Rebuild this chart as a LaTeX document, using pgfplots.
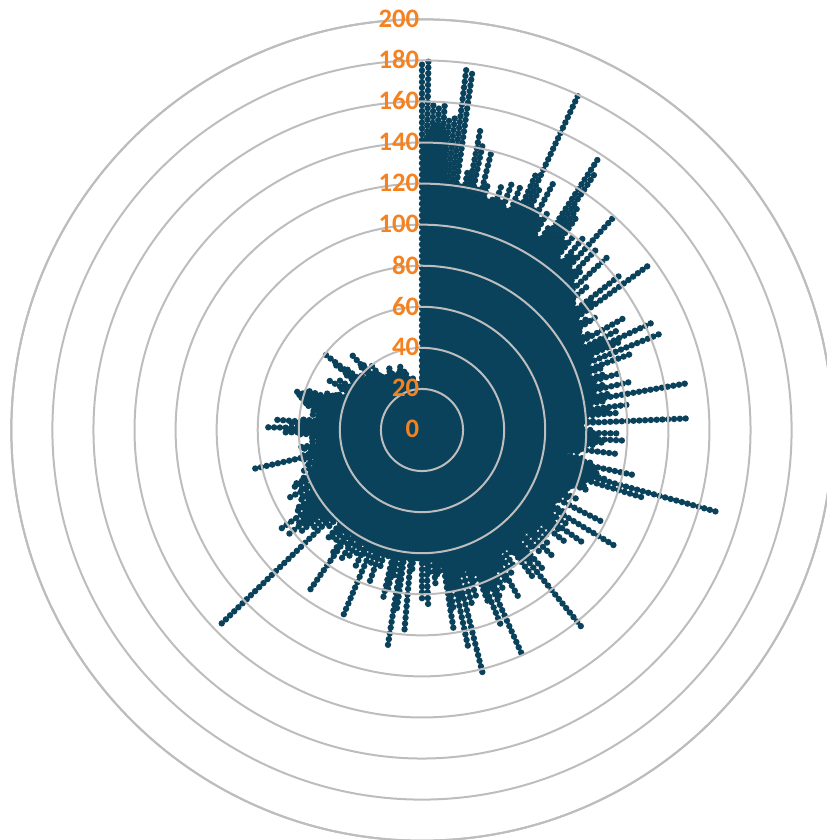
\documentclass[border=0pt]{standalone}
\usepackage{fontspec}
\setmainfont{Carlito}
\usepackage{pgfplots}
\pgfplotsset{compat=1.18}
\usepgfplotslibrary{polar}
\definecolor{spokecol}{HTML}{0A425C}
\definecolor{labelcol}{HTML}{F58220}
\definecolor{gridcol}{HTML}{BDBDBD}
% angle clockwise from top / value
\def\spokes{0/178,1/180,2/160,3/159,4/160,5/152,6/155,7/178,8/177,9/122,10/129,11/149,12/143,13/122,14/139,15/124,16/116,17/120,18/126,19/118,20/128,21/117,22/129,23/122,24/137,25/182,26/130,27/121,28/137,29/118,30/124,31/110,32/118,33/157,34/150,35/132,36/128,37/116,38/120,39/108,40/122,41/112,42/141,43/106,44/124,45/110,46/104,47/123,48/100,49/106,50/98,51/96,52/123,53/104,54/138,55/92,56/98,57/103,58/92,59/90,60/96,61/113,62/88,63/108,64/100,65/125,66/106,67/90,68/127,69/88,70/109,71/92,72/86,73/94,74/99,75/88,76/92,77/104,78/86,79/94,80/131,81/90,82/84,83/101,84/92,85/96,86/80,87/84,87.5/131,89/78,90/84,91/97,92/86,93/99,94/88,95/86,96/80,97/95,98/78,99/71,100/80,101/84,102/106,103/88,104/90,105/92,105.5/150,106/86,107/112,108/84,109/85,110/86,111/74,112/78,113/72,114/84,115/80,116/74,117/99,118/76,119/72,120/80,121/110,122/76,123/84,124/78,125/97,126/82,127/78,128/90,129/70,130/80,131/74,132/84,133/76,134/89,135/72,136/82,137/78,138/70,139/90,140/84,141/123,142/80,143/89,144/76,145/72,146/80,147/72,148/82,149/76,150/96,151/84,152/78,153/88,154/82,155/90,156/119,157/84,158/103,159/90,160/74,161/80,162/86,163/70,164/90,165/74,166/124,167/84,168/110,169/78,170/88,171/98,172/66,173/72,174/72,175/75,176/62,177/70,178/86,179/60,180/83,181/62,182/62,183/58,184/68,185/100,186/64,187/60,188/88,189/108,190/60,191/74,192/80,193/86,194/64,195/66,196/62,197/72,198/64,199/78,200/66,201/70,202/60,203/98,204/64,205/68,206/74,207/62,208/70,209/64,210/72,211/60,212/74,213/68,214/62,215/96,216/74,217/62,218/68,219/64,220/70,221/72,222/62,223/60,224/66,225/62,226/136,227/64,228/72,229/66,230/78,231/74,232/83,233/76,234/72,235/86,236/70,237/73,238/72,239/66,240/70,241/68,242/62,243/73,244/66,245/60,246/70,247/68,248/64,249/60,250/58,251/62,252/56,253/60,254/58,255/54,256/60,257/84,258/60,259/56,260/56,261/58,262/62,263/52,264/54,265/50,266/56,267/54,268/60,269/68,270/66,271/77,272/62,273/66,274/71,275/60,276/52,277/52,278/54,279/50,280/56,281/54,282/58,283/58,284/60,285/62,286/64,287/66,288/60,289/60,290/50,291/50,292/46,293/44,294/42,295/40,296/42,297/44,298/52,299/46,300/40,301/47,302/42,303/40,304/38,305/42,306/46,307/54,308/62,309/48,310/42,311/38,312/40,313/36,314/38,315/38,316/44,317/50,318/44,319/38,320/34,321/36,322/41,323/34,324/32,325/30,326/32,327/32,328/30,329/30,330/33,331/34,332/36,333/30,334/28,335/28,336/30,337/32,338/30,339/32,340/33,341/33,342/28,343/30,344/30,345/26,346/28,347/26,348/24,349/26,350/26,351/24,352/24,353/22,354/24,355/22,356/22,357/22,358/24,359/24}
\begin{document}
\begin{tikzpicture}[x=1pt,y=1pt]
\path[use as bounding box] (0,0) rectangle (619.5,630);
\begin{polaraxis}[
  at={(316.5pt,307.5pt)}, anchor=origin,
  scale only axis,
  width=616pt, height=616pt,
  xmin=90, xmax=450,
  ymin=0, ymax=200,
  xtick=\empty,
  ytick={0,20,...,200},
  ymajorgrids=true,
  grid style={gridcol, line width=1.5pt},
  major tick length=0pt,
  separate axis lines,
  x axis line style={gridcol, line width=1.5pt},
  y axis line style={draw=none},
  axis on top,
  clip=false,
  /pgf/number format/assume math mode=true,
  yticklabel style={anchor=east, inner sep=0pt, xshift=-2pt, yshift=0.5pt,
    font=\fontsize{20}{20}\selectfont\bfseries, text=labelcol},
]
% solid part of the disc (angle 450 minus clockwise angle)
\addplot[fill=spokecol, draw=none, forget plot] coordinates {
(450,140)(448,150)(446,150)(445,145)(444,112)(442,120)(440,112)(435,110)(430,112)(425,114)(420,108)(415,103)(410,98)(405,95)(400,88)(395,84)(390,82)(385,82)(380,80)(375,80)(370,80)(365,77)(360,78)(355,80)(350,71)(345,83)(340,81)(335,73)(330,73)(325,71)(320,73)(315,71)(310,73)(305,71)(300,73)(295,73)(290,71)(285,73)(280,71)(275,64)(270,64)(265,64)(260,64)(255,63)(250,63)(245,63)(240,63)(235,62)(230,61)(225,61)(220,62)(215,63)(210,60)(205,58)(200,55)(195,53)(190,52)(185,51)(180,49)(175,51)(170,51)(165,53)(160,48)(155,40)(150,38)(145,38)(140,38)(135,36)(130,32)(125,30)(120,28)(115,27)(110,28)(105,24)(100,22)(95,20)(91,20)
} --cycle;
\foreach \a/\r in \spokes {
  \pgfmathsetmacro\th{450-\a}
  \pgfmathsetmacro\ph{mod(int(\a),2)*2.17}
  \edef\temp{\noexpand\addplot[spokecol, line width=4.8pt, line cap=round,
    dash pattern=on 0pt off 4.35pt, dash phase=\ph pt, forget plot] coordinates {(\th,0) (\th,\r)};}
  \temp
}
\end{polaraxis}
\end{tikzpicture}
\end{document}
